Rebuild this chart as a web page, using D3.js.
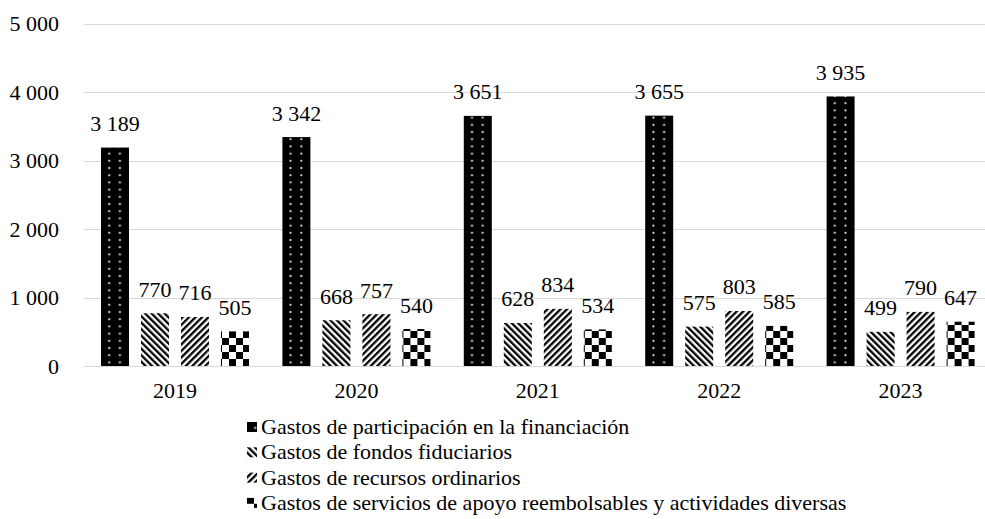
<!DOCTYPE html>
<html><head><meta charset="utf-8"><script src="https://cdn.jsdelivr.net/npm/d3@7"></script></head>
<body style="margin:0">
<svg class="canvas" width="985" height="519"></svg>
<script>
// data
var years = ["2019", "2020", "2021", "2022", "2023"];
var seriesNames = [
    "Gastos de participación en la financiación",
    "Gastos de fondos fiduciarios",
    "Gastos de recursos ordinarios",
    "Gastos de servicios de apoyo reembolsables y actividades diversas"
];
var participacion = [3189, 3342, 3651, 3655, 3935];
var fiduciarios = [770, 668, 628, 575, 499];
var ordinarios = [716, 757, 834, 803, 790];
var servicios = [505, 540, 534, 585, 647];
var yTicks = [0, 1000, 2000, 3000, 4000, 5000];

var seriesValues = [participacion, fiduciarios, ordinarios, servicios];
var patternKinds = ["dots", "back", "fwd", "check"];

var svg = d3.select(".canvas");
var defs = svg.append("defs");

var fmt = d3.formatLocale({decimal: ",", thousands: "\u00a0", grouping: [3], currency: ["", ""]}).format(",");

var x0 = d3.scaleBand().domain(years).range([84.3, 991.3]).paddingInner(0).paddingOuter(0);
var x1 = d3.scaleBand().domain(d3.range(4)).range([16.7, 164.7]).paddingInner(0.3).paddingOuter(0);
var y = d3.scaleLinear().domain([0, 5000]).range([366, 23.5]);

// pattern builders, anchored on the given origin
function makePattern(id, kind, ox, oy) {
    var p;
    if (kind == "dots") {
        p = defs.append("pattern").attr("id", id)
            .attr("patternUnits", "userSpaceOnUse")
            .attr("x", ox).attr("y", oy)
            .attr("width", 10.7).attr("height", 7.2);
        p.append("rect").attr("width", 10.7).attr("height", 7.2).style("fill", "#000");
        p.append("circle").attr("cx", 8.2).attr("cy", 3.6).attr("r", 1.1).style("fill", "#d8d8d8");
    } else if (kind == "back" || kind == "fwd") {
        p = defs.append("pattern").attr("id", id)
            .attr("patternUnits", "userSpaceOnUse")
            .attr("x", ox).attr("y", oy)
            .attr("width", 4.6).attr("height", 4.6)
            .attr("patternTransform", "rotate(" + (kind == "fwd" ? 45 : -45) + ")");
        p.append("rect").attr("width", 4.6).attr("height", 4.6).style("fill", "#fff");
        p.append("rect").attr("width", 2.3).attr("height", 4.6).style("fill", "#000");
    } else {
        p = defs.append("pattern").attr("id", id)
            .attr("patternUnits", "userSpaceOnUse")
            .attr("x", ox).attr("y", oy)
            .attr("width", 14).attr("height", 14);
        p.append("rect").attr("width", 14).attr("height", 14).style("fill", "#fff");
        p.append("rect").attr("width", 7).attr("height", 7).style("fill", "#000");
        p.append("rect").attr("x", 7).attr("y", 7).attr("width", 7).attr("height", 7).style("fill", "#000");
    }
}

// gridlines
svg.append("g").selectAll("line")
    .data(yTicks)
    .enter()
    .append("line")
        .attr("x1", 84.3).attr("x2", 985)
        .attr("y1", function(d) { return Math.round(y(d)) + 0.5; })
        .attr("y2", function(d) { return Math.round(y(d)) + 0.5; })
        .style("stroke", "#d9d9d9")
        .style("stroke-width", 1);

// y tick labels
svg.append("g").selectAll("text")
    .data(yTicks)
    .enter()
    .append("text")
        .attr("x", 59)
        .attr("y", function(d) { return y(d) + 7.5; })
        .attr("text-anchor", "end")
        .style("font-size", "22px")
        .style("font-family", "Liberation Serif")
        .text(function(d) { return fmt(d); });

// bars
var bars = [];
years.forEach(function(yr, j) {
    seriesValues.forEach(function(vals, i) {
        bars.push({year: yr, j: j, s: i, value: vals[j]});
    });
});

bars.forEach(function(d) {
    d.x = x0(d.year) + x1(d.s);
    d.id = "pat-" + d.s + "-" + d.j;
    makePattern(d.id, patternKinds[d.s], d.s == 0 ? d.x : d.x + 1, y(0));
});

svg.append("g").selectAll("rect")
    .data(bars)
    .enter()
    .append("rect")
        .attr("x", function(d) { return d.x; })
        .attr("y", function(d) { return y(d.value); })
        .attr("width", x1.bandwidth())
        .attr("height", function(d) { return y(0) - y(d.value); })
        .style("fill", function(d) { return "url(#" + d.id + ")"; });

// value labels
svg.append("g").selectAll("text")
    .data(bars)
    .enter()
    .append("text")
        .attr("x", function(d) { return d.x + x1.bandwidth() / 2; })
        .attr("y", function(d) { return y(d.value) - 16.5; })
        .attr("text-anchor", "middle")
        .style("font-size", "22px")
        .style("font-family", "Liberation Serif")
        .text(function(d) { return fmt(d.value); });

// category labels
svg.append("g").selectAll("text")
    .data(years)
    .enter()
    .append("text")
        .attr("x", function(d) { return x0(d) + x0.bandwidth() / 2; })
        .attr("y", 398)
        .attr("text-anchor", "middle")
        .style("font-size", "22px")
        .style("font-family", "Liberation Serif")
        .text(function(d) { return d; });

// legend
var legend = svg.append("g").selectAll("g")
    .data(seriesNames)
    .enter()
    .append("g")
        .attr("transform", function(d, i) { return "translate(0," + (427 + i * 25.3) + ")"; });

legend.each(function(d, i) {
    makePattern("leg-" + i, patternKinds[i], 247, 427 + i * 25.3 - 5);
});

legend.append("rect")
    .attr("x", 247).attr("y", -5)
    .attr("width", 10).attr("height", 10)
    .style("fill", function(d, i) { return "url(#leg-" + i + ")"; });

legend.append("text")
    .attr("x", 261)
    .attr("y", 7)
    .style("font-size", "22px")
    .style("font-family", "Liberation Serif")
    .text(function(d) { return d; });
</script>
</body></html>
